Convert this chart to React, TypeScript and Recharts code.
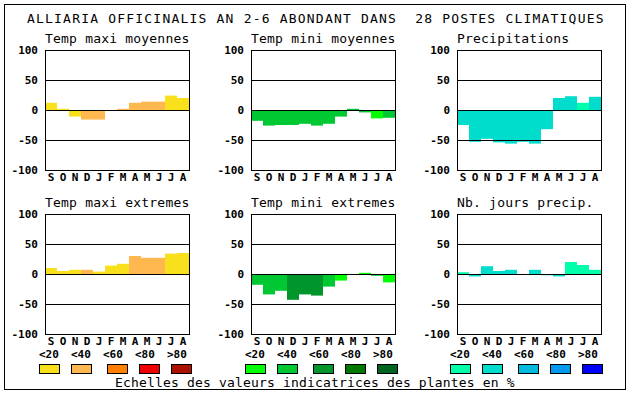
import React from "react";
import { BarChart, Bar, Cell, XAxis, YAxis, ReferenceLine, ReferenceArea } from "recharts";

const MONTHS = ["S", "O", "N", "D", "J", "F", "M", "A", "M", "J", "J", "A"];
const TICKS = [-100, -50, 0, 50, 100];
const GRID = [50, 0, -50];
const CLASS_LABELS = ["<20", "<40", "<60", "<80", ">80"];

const TEMP_COLORS = ["#f8e11c", "#ffb850", "#ff7f00", "#ee0000", "#aa1100"];
const GREEN_COLORS = ["#00ff00", "#00c832", "#00962c", "#007800", "#006420"];
const WATER_COLORS = ["#00ffaa", "#00ddcc", "#00bbdd", "#0099ee", "#0000ff"];

// values in %, class = index in the colour scale
const tmaxMoy = [12, 2, -11, -16, -16, 0, 2, 12, 14, 14, 24, 20];
const tmaxMoyCls = [0, 0, 0, 1, 1, 0, 1, 1, 1, 1, 0, 0];
const tminMoy = [-18, -26, -25, -25, -23, -26, -23, -11, 2, -4, -14, -13];
const tminMoyCls = [1, 1, 1, 1, 1, 1, 1, 1, 1, 1, 0, 1];
const precip = [-25, -53, -48, -54, -56, -53, -56, -32, 20, 23, 12, 22];
const precipCls = [1, 1, 1, 1, 1, 1, 1, 1, 1, 1, 0, 1];
const tmaxExt = [10, 5, 7, 7, 4, 14, 17, 30, 27, 27, 34, 35];
const tmaxExtCls = [0, 0, 0, 1, 0, 0, 0, 1, 1, 1, 0, 0];
const tminExt = [-18, -34, -28, -43, -34, -36, -21, -11, 0, 2, -3, -14];
const tminExtCls = [1, 1, 1, 2, 2, 2, 1, 0, 0, 0, 1, 0];
const joursPrecip = [3, -4, 13, 5, 7, 0, 7, -2, -4, 20, 15, 7];
const joursPrecipCls = [0, 1, 1, 1, 1, 1, 1, 1, 1, 0, 0, 0];

const MONO = "DejaVu Sans Mono";
const tickStyle = { fontSize: 11, fontWeight: "bold", fill: "#000", fontFamily: MONO };

interface PanelProps {
  left: number;
  top: number;
  values: number[];
  cls: number[];
  colors: string[];
}

function Panel({ left, top, values, cls, colors }: PanelProps) {
  const data = values.map((v, i) => ({ i, v }));
  return (
    <div style={{ position: "absolute", left: left - 45, top: top - 10 }}>
      <BarChart
        width={200}
        height={150}
        data={data}
        margin={{ top: 10, right: 11, left: 0, bottom: 0 }}
        barCategoryGap={0}
        barGap={0}
      >
        <XAxis
          dataKey="i"
          type="category"
          interval={0}
          tickFormatter={(i: number) => MONTHS[i]}
          tick={tickStyle}
          tickLine={false}
          axisLine={false}
          tickSize={0}
          tickMargin={3}
          height={20}
        />
        <YAxis
          type="number"
          domain={[-100, 100]}
          ticks={TICKS}
          interval={0}
          width={45}
          tick={tickStyle}
          tickLine={false}
          axisLine={false}
          tickSize={0}
          tickMargin={7}
          allowDataOverflow
        />
        <Bar dataKey="v" isAnimationActive={false}>
          {data.map((d) => (
            <Cell key={d.i} fill={colors[cls[d.i]]} />
          ))}
        </Bar>
        {GRID.map((g) => (
          <ReferenceLine key={g} y={g} stroke="#000" strokeWidth={1} shapeRendering="crispEdges" zIndex={1500} />
        ))}
        <ReferenceArea
          y1={-100}
          y2={100}
          fill="none"
          fillOpacity={0}
          stroke="#000"
          strokeWidth={1}
          strokeOpacity={1}
          shapeRendering="crispEdges"
          zIndex={1500}
        />
      </BarChart>
    </div>
  );
}

const BOX_OFFSETS = [0, 32, 68, 100, 132];

function LegendGroup({ x, colors }: { x: number; colors: string[] }) {
  return (
    <g>
      {CLASS_LABELS.map((l, k) => (
        <text key={l} x={x + k * 32} y={358} fontSize={11} fontWeight="bold" fontFamily={MONO} fill="#000">
          {l}
        </text>
      ))}
      {colors.map((c, k) => (
        <rect key={c} x={x + BOX_OFFSETS[k] + 0.5} y={364.5} width={20} height={9} fill={c} stroke="#000" strokeWidth={1} />
      ))}
    </g>
  );
}

export default function App() {
  const titleStyle = { fontSize: 13, fontFamily: MONO, fill: "#000" };
  return (
    <div style={{ position: "absolute", left: 0, top: 0, width: 630, height: 394, background: "#fff" }}>
      <Panel left={45} top={50} values={tmaxMoy} cls={tmaxMoyCls} colors={TEMP_COLORS} />
      <Panel left={251} top={50} values={tminMoy} cls={tminMoyCls} colors={GREEN_COLORS} />
      <Panel left={457} top={50} values={precip} cls={precipCls} colors={WATER_COLORS} />
      <Panel left={45} top={214} values={tmaxExt} cls={tmaxExtCls} colors={TEMP_COLORS} />
      <Panel left={251} top={214} values={tminExt} cls={tminExtCls} colors={GREEN_COLORS} />
      <Panel left={457} top={214} values={joursPrecip} cls={joursPrecipCls} colors={WATER_COLORS} />
      <svg width={630} height={394} style={{ position: "absolute", left: 0, top: 0, pointerEvents: "none" }}>
        <rect x={4.5} y={4.5} width={621} height={385} fill="none" stroke="#000" strokeWidth={1} />
        <text x={27} y={23} {...titleStyle} letterSpacing={1.2} xmlSpace="preserve">
          ALLIARIA OFFICINALIS AN 2-6 ABONDANT DANS  28 POSTES CLIMATIQUES
        </text>
        <text x={45} y={43} {...titleStyle} letterSpacing={0.2}>Temp maxi moyennes</text>
        <text x={251} y={43} {...titleStyle} letterSpacing={0.2}>Temp mini moyennes</text>
        <text x={457} y={43} {...titleStyle} letterSpacing={0.2}>Precipitations</text>
        <text x={45} y={207} {...titleStyle} letterSpacing={0.2}>Temp maxi extremes</text>
        <text x={251} y={207} {...titleStyle} letterSpacing={0.2}>Temp mini extremes</text>
        <text x={457} y={207} {...titleStyle} letterSpacing={0.2}>Nb. jours precip.</text>
        <LegendGroup x={39} colors={TEMP_COLORS} />
        <LegendGroup x={245} colors={GREEN_COLORS} />
        <LegendGroup x={450} colors={WATER_COLORS} />
        <text x={115} y={387} {...titleStyle} letterSpacing={0.17}>
          Echelles des valeurs indicatrices des plantes en %
        </text>
      </svg>
    </div>
  );
}
